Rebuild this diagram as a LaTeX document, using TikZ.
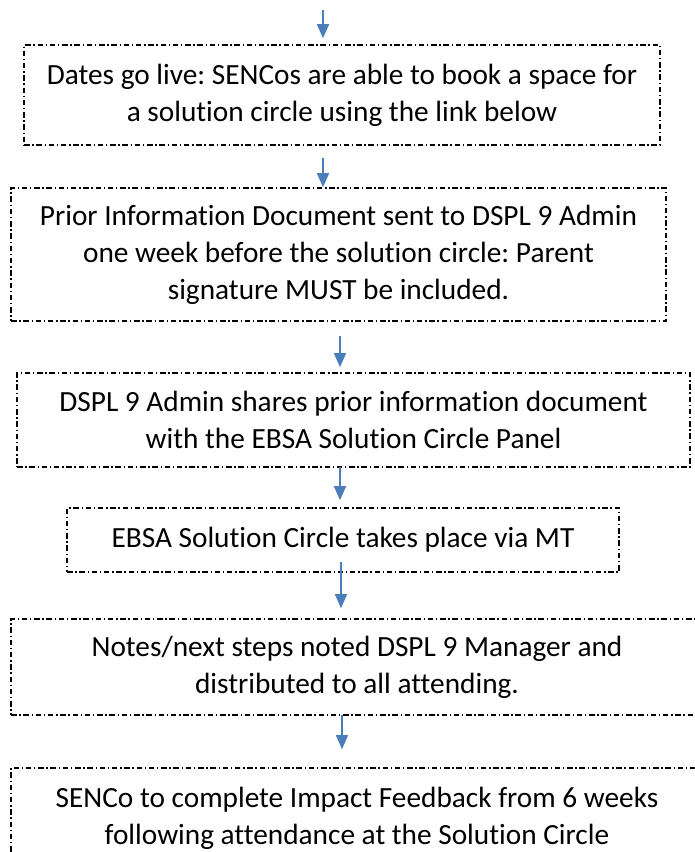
\documentclass[tikz,border=0pt]{standalone}
\usepackage{fontspec}
\setmainfont{Carlito}[Ligatures=CommonOff]
\frenchspacing
\usetikzlibrary{arrows.meta}
\definecolor{arrowblue}{HTML}{4A7EBB}
\begin{document}
\begin{tikzpicture}[x=1pt,y=-1pt,
  flowbox/.style={draw=black, line width=1.6pt,
    dash pattern=on 5.5pt off 2.7pt on 1.4pt off 2.7pt,
    align=center, inner sep=0pt,
    font=\fontsize{29.3}{37}\selectfont},
  flowarrow/.style={draw=arrowblue, line width=1.5pt,
    -{Triangle[length=14pt,width=12pt]}}]
\useasboundingbox (0,0) rectangle (695,852);

% process steps
\node[flowbox, minimum width=636pt, minimum height=100pt] (b1) at (342,95)
  {Dates go live: SENCos are able to book a space for\\a solution circle using the link below};
\node[flowbox, minimum width=655pt, minimum height=133pt] (b2) at (338.5,254.5)
  {Prior Information Document sent to DSPL 9 Admin\\one week before the solution circle: Parent\\signature MUST be included.};
\node[flowbox, minimum width=673pt, minimum height=94pt] (b3) at (353.5,420)
  {DSPL 9 Admin shares prior information document\\with the EBSA Solution Circle Panel};
\node[flowbox, minimum width=552pt, minimum height=64pt] (b4) at (343,540)
  {EBSA Solution Circle takes place via MT};
\node[flowbox, minimum width=692pt, minimum height=96pt] (b5) at (357,667)
  {Notes/next steps noted DSPL 9 Manager and\\distributed to all attending.};
\node[flowbox, minimum width=692pt, minimum height=100pt] (b6) at (357,818)
  {SENCo to complete Impact Feedback from 6 weeks\\following attendance at the Solution Circle};

% connector end points
\coordinate (s0) at (323,10);
\coordinate (s1) at (323,158);
\coordinate (s2) at (340,336);
\coordinate (s3) at (340,467);
\coordinate (s4) at (341,562);
\coordinate (s5) at (342,715);

% connectors
\draw[flowarrow, shorten >=6pt] (s0) -- (s0 |- b1.north);
\draw[flowarrow] (s1) -- (s1 |- b2.north);
\draw[flowarrow, shorten >=5pt] (s2) -- (s2 |- b3.north);
\draw[flowarrow, shorten >=7pt] (s3) -- (s3 |- b4.north);
\draw[flowarrow, shorten >=10pt] (s4) -- (s4 |- b5.north);
\draw[flowarrow, shorten >=18pt] (s5) -- (s5 |- b6.north);
\end{tikzpicture}
\end{document}
